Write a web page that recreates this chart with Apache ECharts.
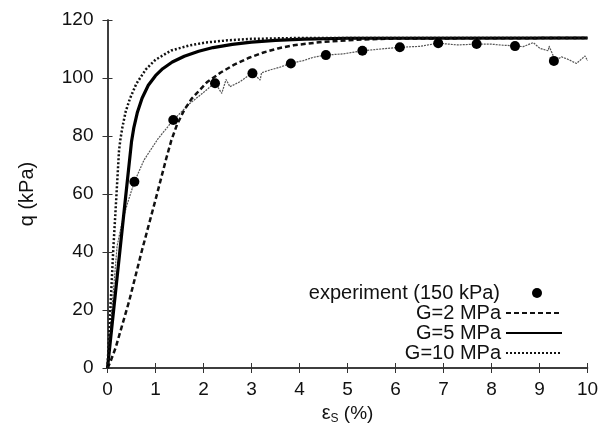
<!DOCTYPE html>
<html lang="en">
<head>
    <meta charset="UTF-8">
    <title>q vs shear strain</title>
    <script src="https://cdn.jsdelivr.net/npm/echarts@6/dist/echarts.min.js"></script>
</head>
<body style="margin:0">
<div id="chart" style="width: 612px;height:430px;"></div>
<script type="text/javascript">
    // values: [strain %, q kPa]
    var expMarkers = [[0.56, 64.2], [1.37, 85.5], [2.24, 98.2], [3.02, 101.6], [3.82, 105], [4.55, 107.9],
        [5.31, 109.4], [6.09, 110.6], [6.89, 112], [7.69, 111.7], [8.49, 111], [9.30, 105.9]];
    var expRaw = [[0, 0], [0.1, 22], [0.2, 42], [0.3, 50], [0.42, 57], [0.56, 64.2], [0.76, 71.7], [1.05, 79],
        [1.37, 85.5], [1.72, 91.3], [2.0, 95], [2.24, 98.4], [2.38, 94.7], [2.47, 99.5], [2.55, 97], [2.76, 98.7],
        [3.02, 101.8], [3.18, 99.3], [3.21, 101.8], [3.39, 102.8], [3.59, 103.7], [3.8, 105], [4.08, 106],
        [4.28, 107.1], [4.53, 107.9], [4.9, 108.3], [5.31, 109.4], [5.7, 110], [6.09, 110.6], [6.5, 110.9],
        [6.89, 112], [7.3, 111.4], [7.69, 111.7], [7.97, 111.7], [8.25, 111.3], [8.49, 111.1], [8.66, 110.8],
        [8.87, 112.2], [9.01, 110.2], [9.18, 109.4], [9.2, 111], [9.28, 107.9], [9.32, 105.9], [9.46, 107.3],
        [9.6, 106.4], [9.77, 105], [9.95, 107.6], [10, 106]];
    var g2 = [[0, 0], [0.05, 1.7], [0.17, 7], [0.45, 23], [0.72, 40.7], [1.0, 58], [1.22, 72], [1.33, 78.5],
        [1.45, 84], [1.6, 89], [1.75, 92.8], [2.07, 98.5], [2.35, 101.8], [2.63, 104.5], [2.95, 107],
        [3.25, 108.8], [3.55, 110.2], [3.88, 111.3], [4.5, 112.5], [5.2, 113.2], [6, 113.6], [10, 113.8]];
    var g5 = [[0, 0], [0.26, 40.7], [0.5, 78], [0.55, 83], [0.62, 88], [0.72, 93], [0.85, 97.5], [1.0, 100.8],
        [1.15, 103.2], [1.35, 105.5], [1.6, 107.5], [1.9, 109.2], [2.2, 110.5], [2.6, 111.6], [3.0, 112.4],
        [3.5, 113], [4.1, 113.4], [5, 113.7], [10, 113.8]];
    var g10 = [[0, 0], [0.12, 40.7], [0.24, 75], [0.27, 79], [0.31, 83], [0.38, 88.5], [0.47, 93], [0.6, 98],
        [0.8, 103], [1.0, 106.3], [1.33, 109.5], [1.7, 111.2], [2.03, 112.2], [2.5, 113], [3.0, 113.5],
        [4, 113.8], [10, 113.8]];
    var legendNames = ['experiment (150 kPa)', 'G=2 MPa', 'G=5 MPa', 'G=10 MPa'];
    var legendRowTop = [283, 303, 323, 343];

    var chart = echarts.init(document.getElementById('chart'));
    var font = 'Liberation Sans';
    var frame = {show: true, lineStyle: {color: '#333', width: 1.5}};

    function oneLegend(i) {
        var dot = i === 0;
        return {
            data: [legendNames[i]],
            right: dot ? 70 : 49,
            top: dot ? legendRowTop[i] : legendRowTop[i],
            padding: 0,
            align: 'right',
            itemWidth: dot ? 10 : 56,
            itemHeight: dot ? 10 : 14,
            selectedMode: false,
            itemStyle: dot ? {opacity: 1} : {opacity: 0},
            textStyle: {fontFamily: font, fontSize: 20, color: '#111', padding: dot ? [0, 27, 0, 0] : 0}
        };
    }

    var option = {
        animation: false,
        grid: {left: 107.5, right: 24.5, top: 20, bottom: 62},
        legend: [oneLegend(0), oneLegend(1), oneLegend(2), oneLegend(3)],
        xAxis: [{
            type: 'value', min: 0, max: 10, interval: 1,
            name: '{e|ε}{s|S}{t| (%)}', nameLocation: 'middle', nameGap: 30,
            nameTextStyle: {
                rich: {
                    e: {fontFamily: font, fontSize: 20, color: '#111'},
                    s: {fontFamily: font, fontSize: 12, color: '#111', padding: [10, 0, 0, 0]},
                    t: {fontFamily: font, fontSize: 19, color: '#111'}
                }
            },
            axisLine: frame,
            axisTick: {inside: true, length: 5, lineStyle: {color: '#333'}},
            axisLabel: {fontFamily: font, fontSize: 19, color: '#111', margin: 12},
            splitLine: {show: false}
        }, {
            type: 'value', position: 'top', min: 0, max: 10, interval: 1,
            axisLine: frame,
            axisTick: {inside: true, length: 5, lineStyle: {color: '#333'}},
            axisLabel: {show: false},
            splitLine: {show: false}
        }],
        yAxis: [{
            type: 'value', min: 0, max: 120, interval: 20,
            name: 'q (kPa)', nameLocation: 'middle', nameGap: 70,
            nameTextStyle: {fontFamily: font, fontSize: 20, color: '#111'},
            axisLine: frame,
            axisTick: {inside: true, length: 5, lineStyle: {color: '#333'}},
            axisLabel: {fontFamily: font, fontSize: 19, color: '#111', margin: 14},
            splitLine: {show: false}
        }, {
            type: 'value', position: 'right', min: 0, max: 120, interval: 20,
            axisLine: frame,
            axisTick: {inside: true, length: 5, lineStyle: {color: '#333'}},
            axisLabel: {show: false},
            splitLine: {show: false}
        }],
        series: [
            {
                name: 'raw',
                type: 'line',
                data: expRaw,
                symbol: 'none',
                lineStyle: {color: '#555', width: 1.2, type: [2, 1]},
                z: 1
            },
            {
                name: 'G=2 MPa',
                type: 'line',
                data: g2,
                symbol: 'none',
                itemStyle: {color: '#111'},
                lineStyle: {color: '#111', width: 2.5, type: [5, 3]}
            },
            {
                name: 'G=5 MPa',
                type: 'line',
                data: g5,
                symbol: 'none',
                itemStyle: {color: '#000'},
                lineStyle: {color: '#000', width: 3.2}
            },
            {
                name: 'G=10 MPa',
                type: 'line',
                data: g10,
                symbol: 'none',
                itemStyle: {color: '#111'},
                lineStyle: {color: '#111', width: 2.5, type: [2, 2]}
            },
            {
                name: 'experiment (150 kPa)',
                type: 'scatter',
                data: expMarkers,
                symbol: 'circle',
                symbolSize: 10,
                itemStyle: {color: '#000', opacity: 1},
                z: 5
            }
        ]
    };

    chart.setOption(option);
</script>
</body>
</html>
